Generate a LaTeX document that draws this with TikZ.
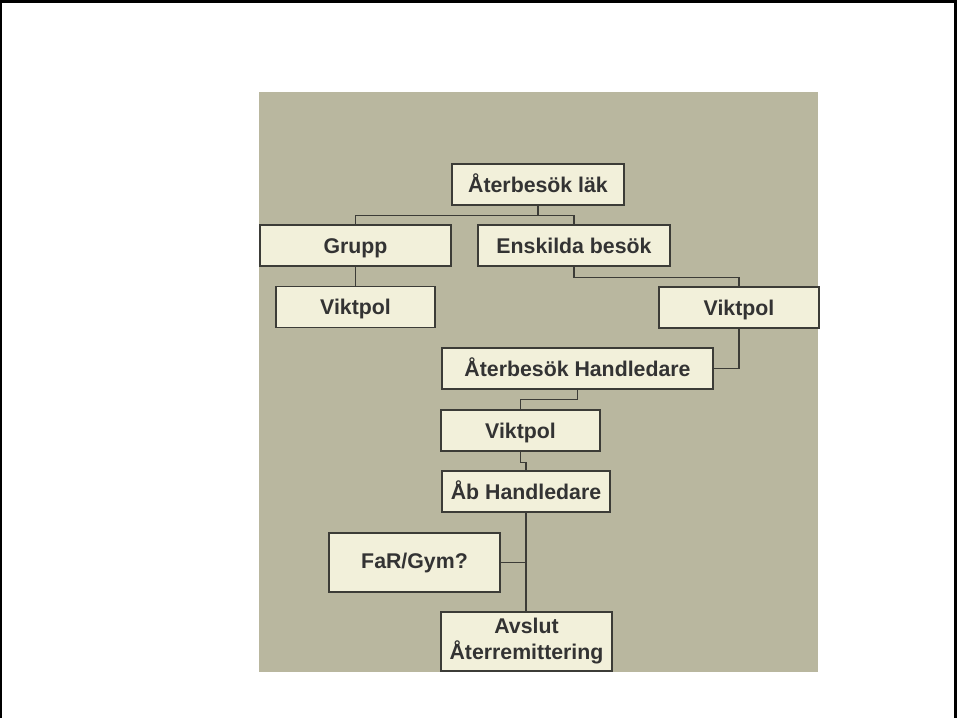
\documentclass[tikz,border=0pt]{standalone}
\usepackage{fontspec}
\setmainfont{Liberation Sans}
\usetikzlibrary{positioning}
\definecolor{panel}{RGB}{185,183,159}
\definecolor{boxfill}{RGB}{242,240,218}
\definecolor{boxline}{RGB}{60,60,55}
\definecolor{txt}{RGB}{51,51,51}
\tikzstyle{chart}=[x=1pt, y=-1pt, font=\fontsize{21.3}{26}\selectfont\bfseries, text=txt]
\tikzstyle{box}=[rectangle, draw=boxline, line width=1.3pt, fill=boxfill, inner sep=0pt, minimum height=41pt, align=center]
\tikzstyle{one}=[box, text height=15pt, text depth=0pt]
\tikzstyle{tall}=[box, minimum height=59pt]
\tikzstyle{link}=[-, draw=boxline, line width=1.3pt]
\tikzstyle{frame}=[line width=2.5pt, draw=black]

\begin{document}
\begin{tikzpicture}[chart]
	\useasboundingbox (0,0) rectangle (957,718);
	%The frame and the panel
	\draw[frame] (1,718) -- (1,1.5) -- (955.5,1.5) -- (955.5,718);
	\fill[panel] (259,92) rectangle (818,672);

	%The top level
	\draw (538,184.5) node[one, minimum width=172pt] (lak) {Återbesök läk};

	%The two branches
	\draw (355.5,245.5) node[one, minimum width=191pt] (grupp) {Grupp};
	\draw (574,245.5) node[one, minimum width=192pt] (enskilda) {Enskilda besök};
	\draw (355.5,307) node[one, minimum width=159pt] (viktgrupp) {Viktpol};
	\draw (739,307.5) node[one, minimum width=160pt] (viktensk) {Viktpol};

	%The chain below
	\draw (577.5,368.5) node[one, minimum width=271pt] (aterhand) {Återbesök Handledare};
	\draw (520.5,430.5) node[one, minimum width=159pt] (viktmid) {Viktpol};
	\draw (526,491.5) node[one, minimum width=168pt] (abhand) {Åb Handledare};
	\draw (414.5,562.5) node[tall, minimum width=171pt] (fargym) {FaR/Gym?};
	\draw (526.5,641.5) node[tall, minimum width=171pt] (avslut) {Avslut\\Återremittering};

	%The connectors
	\draw[link] (lak.south) -- ++(0,10) -| (grupp.north);
	\draw[link] (lak.south) -- ++(0,10) -| (enskilda.north);
	\draw[link] (grupp.south) -- (viktgrupp.north);
	\draw[link] (enskilda.south) -- ++(0,11) -| (viktensk.north);
	\draw[link] (viktensk.south) |- (aterhand.east);
	\draw[link] (aterhand.south) -- ++(0,10) -| (viktmid.north);
	\draw[link] (viktmid.south) -- ++(0,11) -| (abhand.north);
	\draw[link] (abhand.south) -- (abhand.south |- avslut.north);
	\coordinate (farjoin) at (abhand.south |- fargym.east);
	\draw[link] (fargym.east) -- (farjoin);
\end{tikzpicture}
\end{document}
